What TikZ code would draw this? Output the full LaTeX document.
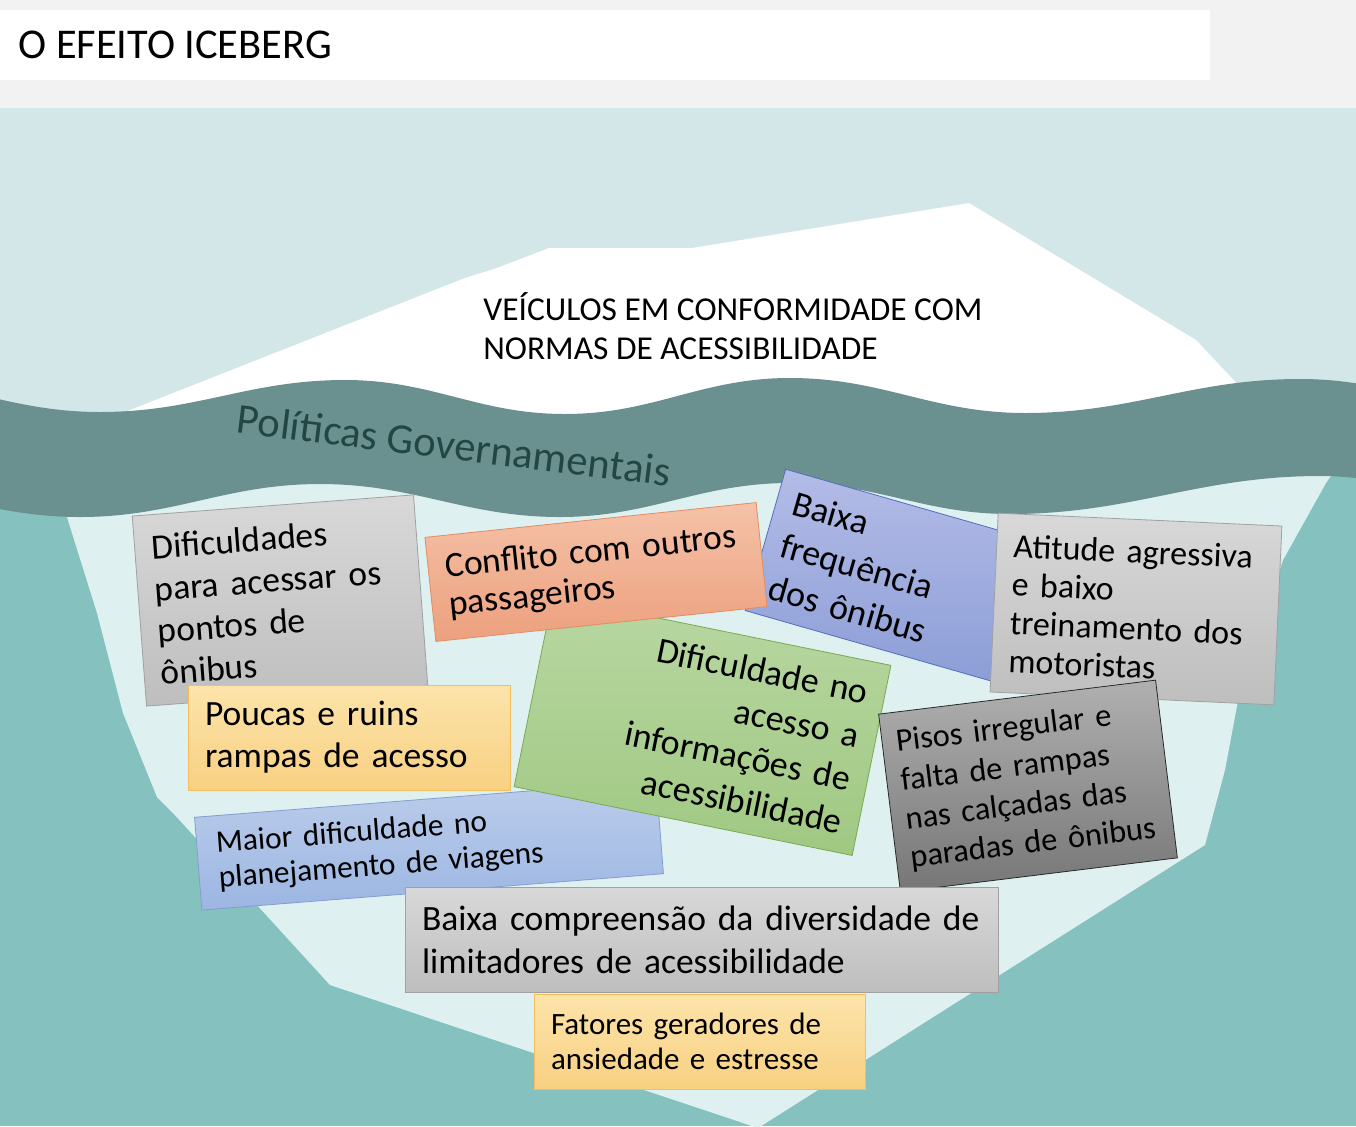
\documentclass[tikz,border=0pt]{standalone}
\usepackage{fontspec}
\setmainfont{Carlito}
\usepackage{xcolor}
\usepackage{tikz}
\usetikzlibrary{positioning}
% --- scene colours -----------------------------------------------------------
\definecolor{topgray}{RGB}{242,242,242}
\definecolor{skybg}{RGB}{211,230,232}
\definecolor{waveband}{RGB}{106,145,143}
\definecolor{deepsea}{RGB}{133,194,191}
\definecolor{deepice}{RGB}{223,240,240}
\definecolor{polink}{RGB}{36,70,66}
% --- card colours ------------------------------------------------------------
\definecolor{graytop}{RGB}{216,216,216}\definecolor{graybot}{RGB}{190,190,190}\definecolor{grayline}{RGB}{160,160,160}
\definecolor{peachtop}{RGB}{245,194,168}\definecolor{peachbot}{RGB}{236,160,126}\definecolor{peachline}{RGB}{228,140,96}
\definecolor{lavtop}{RGB}{180,188,231}\definecolor{lavbot}{RGB}{140,158,215}\definecolor{lavline}{RGB}{80,110,190}
\definecolor{greentop}{RGB}{184,215,162}\definecolor{greenbot}{RGB}{160,200,130}\definecolor{greenline}{RGB}{120,170,80}
\definecolor{yeltop}{RGB}{252,228,170}\definecolor{yelbot}{RGB}{248,208,130}\definecolor{yelline}{RGB}{244,190,92}
\definecolor{bluetop}{RGB}{188,205,235}\definecolor{bluebot}{RGB}{156,182,226}\definecolor{blueline}{RGB}{128,158,210}
\definecolor{darktop}{RGB}{176,176,176}\definecolor{darkbot}{RGB}{118,118,118}\definecolor{darkline}{RGB}{40,40,40}
\tikzset{
  % --- cards -------------------------------------------------------------------
  card/.style={rectangle,draw,line width=0.4pt,inner ysep=0pt,inner xsep=8.5pt,
               text=black,align=left,font=\fontsize{17.75}{21}\selectfont},
  cardgray/.style={card,top color=graytop,bottom color=graybot,draw=grayline},
  cardpeach/.style={card,top color=peachtop,bottom color=peachbot,draw=peachline},
  cardlav/.style={card,top color=lavtop,bottom color=lavbot,draw=lavline},
  cardgreen/.style={card,top color=greentop,bottom color=greenbot,draw=greenline},
  cardyel/.style={card,top color=yeltop,bottom color=yelbot,draw=yelline},
  cardblue/.style={card,top color=bluetop,bottom color=bluebot,draw=blueline},
  carddark/.style={card,top color=darktop,bottom color=darkbot,draw=darkline},
  % --- plain labels ------------------------------------------------------------
  plain/.style={inner sep=0pt,text=black},
}

\begin{document}
\begin{tikzpicture}[x=0.5pt,y=-0.5pt]
  \useasboundingbox (0,0) rectangle (1356,1126);
  \clip (0,0) rectangle (1356,1126);

  % ---- header ----
  \fill[topgray] (0,0) rectangle (1356,108);
  \fill[white] (0,10) rectangle (1210,80);
  \node[plain,anchor=west,font=\fontsize{21.2}{25}\selectfont] (titulo) at (18,45) {O EFEITO ICEBERG};

  % ---- sky, tip, sea ----
  \fill[skybg] (0,108) rectangle (1356,1126);
  \fill[white] (54,440) -- (130,410) -- (465,278) -- (497,268) -- (549,248) -- (692,248)
        -- (969,203) -- (1196,340) -- (1290,440) -- cycle;
  \fill[deepsea] (0,470) rectangle (1356,1126);
  \fill[deepice] (55,480) -- (67,517) -- (97,613) -- (123,713) -- (157,797) -- (173,813)
        -- (330,985) -- (758,1128) -- (1205,845) -- (1225,770) -- (1240,690)
        -- (1283,560) -- (1326,483) -- (1345,455) -- cycle;

  % ---- the water line ----
  \fill[waveband] (-130,380) to[out=0,in=180] (100,412) to[out=0,in=180] (345,380)
        to[out=0,in=180] (565,414) to[out=0,in=180] (790,378) to[out=0,in=180] (1025,413)
        to[out=0,in=180] (1300,379) to[out=0,in=180] (1530,412)
        -- (1550,514) to[out=180,in=0] (1320,476) to[out=180,in=0] (1010,514)
        to[out=180,in=0] (790,483) to[out=180,in=0] (560,517) to[out=180,in=0] (320,484)
        to[out=180,in=0] (80,517) to[out=180,in=0] (-160,484) -- cycle;

  \node[plain,anchor=west,align=left,font=\fontsize{16.7}{19.5}\selectfont] (visivel) at (483,326)
    {VEÍCULOS EM CONFORMIDADE COM\\NORMAS DE ACESSIBILIDADE};
  \node[plain,rotate=-7,text=polink,font=\fontsize{21.3}{24}\selectfont] (politicas) at (454,445)
    {Políticas Governamentais};

  % ---- the hidden part, back to front ----
  \node[cardgray,rotate=4.3,minimum width=141pt,minimum height=95.3pt,text width=124pt] (pontos) at (280,600.5)
    {Dificuldades\\para acessar os\\pontos de\\ônibus};
  \node[cardyel,minimum width=161pt,minimum height=52.5pt,text width=144pt] (rampas) at (349,737.5)
    {Poucas e ruins\\rampas de acesso};
  \node[cardblue,rotate=4.5,minimum width=231.5pt,minimum height=46.5pt,text width=212pt,inner xsep=9.75pt,
        font=\fontsize{15.7}{17.5}\selectfont] (viagens) at (429,845.5)
    {Maior dificuldade no\\planejamento de viagens};
  \node[cardlav,rotate=-16,minimum width=127.5pt,minimum height=73.5pt,text width=110.5pt,
        font=\fontsize{18}{22}\selectfont] (frequencia) at (888,575)
    {Baixa\\frequência\\dos ônibus};
  \node[cardgreen,rotate=-11.5,align=right,minimum width=172.5pt,minimum height=97pt,text width=155.5pt,
        font=\fontsize{18}{22}\selectfont] (informacao) at (702.5,726)
    {Dificuldade no\\acesso a\\informações de\\acessibilidade};
  \node[cardpeach,rotate=6,minimum width=166.5pt,minimum height=52.3pt,text width=149.5pt,
        font=\fontsize{17.75}{19}\selectfont] (conflito) at (596,572)
    {Conflito com outros\\passageiros};
  \node[cardgray,rotate=-2.6,minimum width=142pt,minimum height=89.5pt,text width=125pt,
        font=\fontsize{17}{19.2}\selectfont] (atitude) at (1136,609)
    {Atitude agressiva\\e baixo\\treinamento dos\\motoristas};
  \node[carddark,rotate=7,minimum width=139.5pt,minimum height=89.5pt,text width=131.5pt,inner xsep=4pt,
        font=\fontsize{16.2}{19.5}\selectfont] (pisos) at (1028,786)
    {\hspace*{3pt}Pisos irregular e\\\hspace*{3pt}falta de rampas\\\hspace*{3pt}nas calçadas das\\\hspace*{3pt}paradas de ônibus};
  \node[cardgray,minimum width=296.5pt,minimum height=52.5pt,text width=279.5pt,
        font=\fontsize{17.75}{21.5}\selectfont] (diversidade) at (701.5,939.5)
    {Baixa compreensão da diversidade de\\limitadores de acessibilidade};
  \node[cardyel,minimum width=165.5pt,minimum height=47.5pt,text width=148.5pt,
        font=\fontsize{15.5}{17.5}\selectfont] (estresse) at (699.5,1041.5)
    {Fatores geradores de\\ansiedade e estresse};
\end{tikzpicture}
\end{document}
